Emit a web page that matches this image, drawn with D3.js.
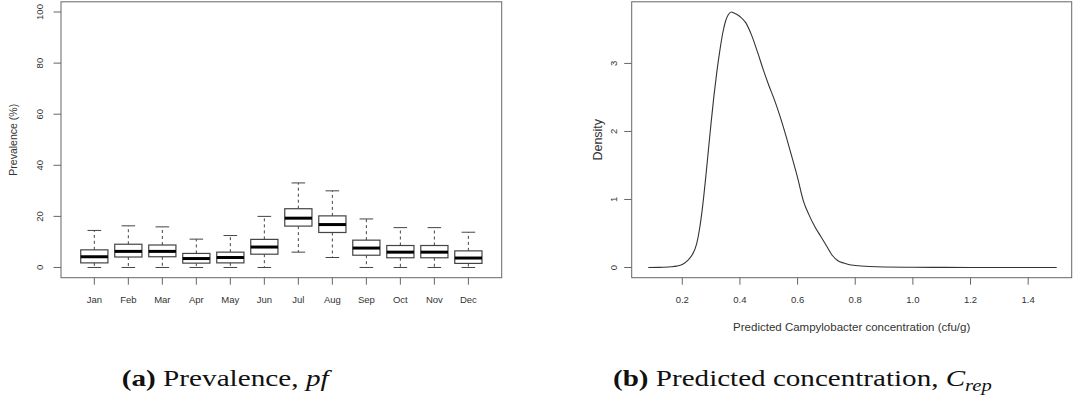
<!DOCTYPE html>
<html>
<head>
<meta charset="utf-8">
<script src="https://cdn.jsdelivr.net/npm/d3@7"></script>
<style>
  html, body { margin: 0; padding: 0; background: #fff; }
  svg { display: block; }
  .sans { font-family: "Liberation Sans", Arial, Helvetica, sans-serif; fill: #333; }
  .serif { font-family: "Liberation Serif", "Times New Roman", serif; fill: #111; }
</style>
</head>
<body>
<svg id="chart" width="1073" height="396"></svg>
<script>
// ---------- Data: (a) monthly prevalence boxplots (%) ----------
const months      = ["Jan","Feb","Mar","Apr","May","Jun","Jul","Aug","Sep","Oct","Nov","Dec"];
const whiskerLow  = [0.0, 0.0, 0.0, 0.0, 0.0, 0.0, 6.0, 3.9, 0.0, 0.0, 0.0, 0.0];
const q1          = [1.8, 4.1, 4.2, 1.7, 1.8, 5.2, 16.2, 13.7, 4.8, 3.8, 3.8, 1.6];
const medians     = [4.2, 6.3, 6.3, 3.5, 3.9, 8.0, 19.3, 16.8, 7.6, 6.0, 6.0, 3.7];
const q3          = [6.9, 9.1, 8.8, 5.5, 6.0, 11.0, 23.0, 20.2, 10.7, 8.6, 8.6, 6.5];
const whiskerHigh = [14.5, 16.3, 15.9, 11.1, 12.5, 20.0, 33.1, 30.0, 19.0, 15.6, 15.6, 13.8];
const prevTicks   = [0, 20, 40, 60, 80, 100];

// ---------- Data: (b) density of predicted concentration ----------
const concX = [0.082,0.12,0.16,0.18,0.20,0.22,0.235,0.25,0.26,0.27,0.28,0.29,0.30,0.31,0.32,0.33,0.34,0.35,0.36,0.371,0.38,0.39,0.40,0.42,0.44,0.46,0.48,0.50,0.52,0.54,0.56,0.58,0.60,0.62,0.64,0.66,0.68,0.70,0.72,0.74,0.76,0.78,0.80,0.85,0.90,1.0,1.1,1.2,1.3,1.4,1.499];
const densY = [0,0.002,0.01,0.02,0.045,0.11,0.19,0.35,0.57,0.88,1.27,1.70,2.13,2.53,2.88,3.18,3.44,3.62,3.72,3.756,3.74,3.72,3.69,3.60,3.42,3.18,2.92,2.68,2.46,2.21,1.93,1.63,1.32,0.98,0.77,0.60,0.46,0.32,0.18,0.10,0.065,0.04,0.03,0.015,0.008,0.004,0.002,0.001,0.0005,0.0002,0];
const concTicks = [0.2, 0.4, 0.6, 0.8, 1.0, 1.2, 1.4];
const densTicks = [0, 1, 2, 3];

const svg = d3.select("#chart");
const frameCol = "#666";
const boxCol = "#444";

// ================= Panel (a) =================
const A = { left: 61, right: 501.7, top: 1.8, bottom: 277.7 };
const xA = d3.scaleLinear().domain([0.02, 12.98]).range([A.left, A.right]);
const yA = d3.scaleLinear().domain([-4, 104]).range([A.bottom, A.top]);
const gA = svg.append("g");

const boxW = xA(1.8) - xA(1.0);   // 0.8 of spacing
const capW = boxW / 2;

months.forEach((m, i) => {
  const cx = xA(i + 1);
  const g = gA.append("g");
  g.append("line").attr("x1", cx).attr("x2", cx)
    .attr("y1", yA(q3[i])).attr("y2", yA(whiskerHigh[i]))
    .attr("stroke", boxCol).attr("stroke-width", 1).attr("stroke-dasharray", "3,3");
  g.append("line").attr("x1", cx).attr("x2", cx)
    .attr("y1", yA(q1[i])).attr("y2", yA(whiskerLow[i]))
    .attr("stroke", boxCol).attr("stroke-width", 1).attr("stroke-dasharray", "3,3");
  [whiskerHigh[i], whiskerLow[i]].forEach(v => {
    g.append("line").attr("x1", cx - capW / 2).attr("x2", cx + capW / 2)
      .attr("y1", yA(v)).attr("y2", yA(v))
      .attr("stroke", boxCol).attr("stroke-width", 1);
  });
  g.append("rect").attr("x", cx - boxW / 2).attr("width", boxW)
    .attr("y", yA(q3[i])).attr("height", yA(q1[i]) - yA(q3[i]))
    .attr("fill", "#fff").attr("stroke", boxCol).attr("stroke-width", 1.2);
  g.append("line").attr("x1", cx - boxW / 2).attr("x2", cx + boxW / 2)
    .attr("y1", yA(medians[i])).attr("y2", yA(medians[i]))
    .attr("stroke", "#000").attr("stroke-width", 3);
});

gA.append("rect").attr("x", A.left).attr("y", A.top)
  .attr("width", A.right - A.left).attr("height", A.bottom - A.top)
  .attr("fill", "none").attr("stroke", frameCol).attr("stroke-width", 1);

months.forEach((m, i) => {
  const cx = xA(i + 1);
  gA.append("line").attr("x1", cx).attr("x2", cx).attr("y1", A.bottom).attr("y2", A.bottom + 7)
    .attr("stroke", frameCol);
  gA.append("text").attr("class", "sans").attr("x", cx).attr("y", 303)
    .attr("text-anchor", "middle").attr("font-size", 9.5).text(m);
});
prevTicks.forEach(t => {
  const y = yA(t);
  gA.append("line").attr("x1", A.left - 7.5).attr("x2", A.left).attr("y1", y).attr("y2", y)
    .attr("stroke", frameCol);
  gA.append("text").attr("class", "sans")
    .attr("transform", `translate(39.3,${y}) rotate(-90)`)
    .attr("dy", "0.35em").attr("text-anchor", "middle").attr("font-size", 9.5).text(t);
});
gA.append("text").attr("class", "sans")
  .attr("transform", `translate(13.3,${(A.top + A.bottom) / 2}) rotate(-90)`)
  .attr("dy", "0.35em").attr("text-anchor", "middle").attr("font-size", 10.5).text("Prevalence (%)");

// ================= Panel (b) =================
const B = { left: 631.7, right: 1071.7, top: 1.8, bottom: 277.7 };
const xB = d3.scaleLinear().domain([0.0245, 1.551]).range([B.left, B.right]);
const yB = d3.scaleLinear().domain([-0.150, 3.906]).range([B.bottom, B.top]);
const gB = svg.append("g");

const pts = concX.map((x, i) => [x, densY[i]]);
gB.append("path").datum(pts)
  .attr("d", d3.line().x(d => xB(d[0])).y(d => yB(d[1])).curve(d3.curveMonotoneX))
  .attr("fill", "none").attr("stroke", "#333").attr("stroke-width", 1.1);

gB.append("rect").attr("x", B.left).attr("y", B.top)
  .attr("width", B.right - B.left).attr("height", B.bottom - B.top)
  .attr("fill", "none").attr("stroke", frameCol).attr("stroke-width", 1);

concTicks.forEach(t => {
  const x = xB(t);
  gB.append("line").attr("x1", x).attr("x2", x).attr("y1", B.bottom).attr("y2", B.bottom + 7)
    .attr("stroke", frameCol);
  gB.append("text").attr("class", "sans").attr("x", x).attr("y", 302.5)
    .attr("text-anchor", "middle").attr("font-size", 9.5).text(t.toFixed(1));
});
densTicks.forEach(t => {
  const y = yB(t);
  gB.append("line").attr("x1", B.left - 7.5).attr("x2", B.left).attr("y1", y).attr("y2", y)
    .attr("stroke", frameCol);
  gB.append("text").attr("class", "sans")
    .attr("transform", `translate(613.3,${y}) rotate(-90)`)
    .attr("dy", "0.35em").attr("text-anchor", "middle").attr("font-size", 9.5).text(t);
});
gB.append("text").attr("class", "sans")
  .attr("transform", `translate(597.3,${(B.top + B.bottom) / 2}) rotate(-90)`)
  .attr("dy", "0.35em").attr("text-anchor", "middle").attr("font-size", 12.5).text("Density");
gB.append("text").attr("class", "sans")
  .attr("x", (B.left + B.right) / 2).attr("y", 330.5)
  .attr("text-anchor", "middle").attr("font-size", 11.5).text("Predicted Campylobacter concentration (cfu/g)");

// ================= Captions =================
function caption(x, targetW, parts) {
  const t = svg.append("text").attr("class", "serif").attr("x", 0).attr("y", 0).attr("font-size", 24);
  parts.forEach(p => {
    const ts = t.append("tspan").text(p.s);
    if (p.b) ts.attr("font-weight", "bold");
    if (p.i) ts.attr("font-style", "italic");
    if (p.sub) ts.attr("font-size", 17).attr("dy", 5);
  });
  const w = t.node().getBBox().width;
  t.attr("transform", `translate(${x},386) scale(${targetW / w},1)`);
}
caption(121.7, 211, [{s:"(a)", b:true}, {s:" Prevalence, "}, {s:"pf", i:true}]);
caption(613, 379, [{s:"(b)", b:true}, {s:" Predicted concentration, "}, {s:"C", i:true}, {s:"rep", i:true, sub:true}]);
</script>
</body>
</html>
